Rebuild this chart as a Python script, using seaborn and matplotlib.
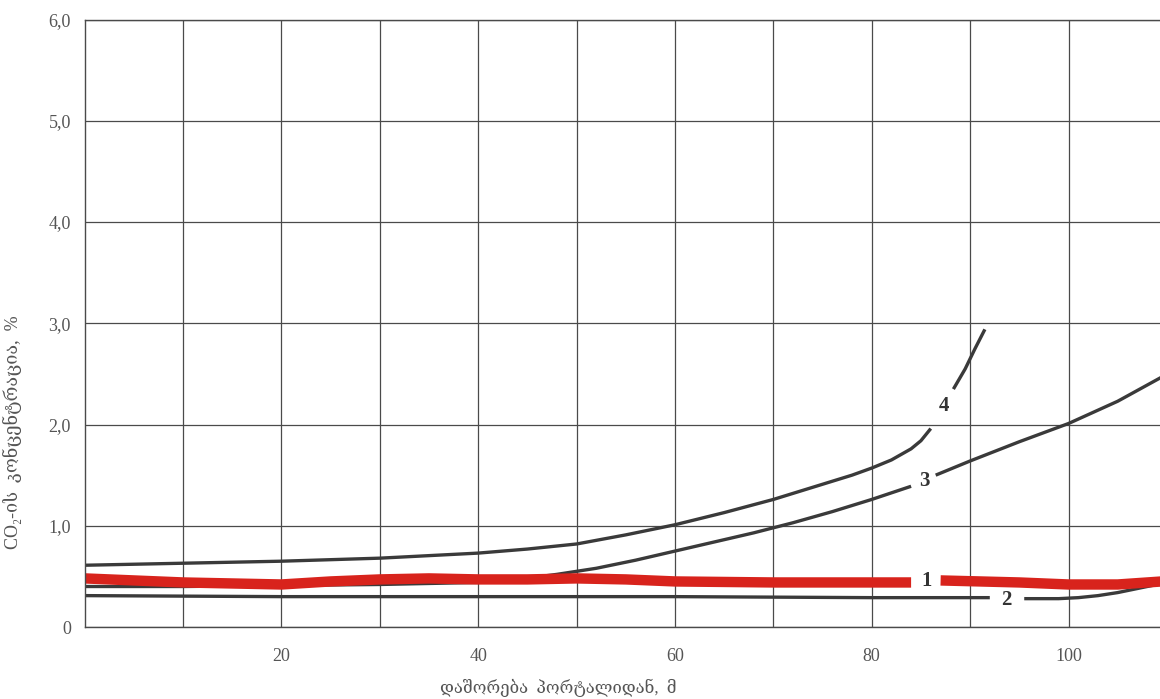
import numpy as np
import pandas as pd
import matplotlib
matplotlib.use("Agg")
import matplotlib.pyplot as plt
from matplotlib.ticker import MultipleLocator, FixedLocator, FixedFormatter
import seaborn as sns

# curve 1 (red), split where the label "1" sits
c1_x_a = [0, 5, 10, 15, 20, 25, 30, 35, 40, 45, 50, 55, 60, 70, 80, 84]
c1_y_a = [0.48, 0.46, 0.44, 0.43, 0.42, 0.45, 0.47, 0.48, 0.47, 0.47, 0.48, 0.47, 0.45, 0.44, 0.44, 0.44]
c1_x_b = [87, 95, 100, 105, 109.5]
c1_y_b = [0.46, 0.44, 0.42, 0.42, 0.45]

# curve 2
c2_x_a = [0, 20, 40, 60, 80, 92]
c2_y_a = [0.31, 0.30, 0.30, 0.30, 0.29, 0.29]
c2_x_b = [95.5, 99, 101, 103, 105, 107, 109.5]
c2_y_b = [0.28, 0.28, 0.29, 0.31, 0.34, 0.38, 0.43]

# curve 3
c3_x_a = [0, 10, 20, 30, 40, 44, 48, 52, 56, 60, 64, 68, 72, 76, 80, 84]
c3_y_a = [0.40, 0.40, 0.41, 0.42, 0.44, 0.47, 0.52, 0.58, 0.66, 0.75, 0.84, 0.93, 1.03, 1.14, 1.26, 1.39]
c3_x_b = [86.5, 90, 95, 100, 105, 109.5]
c3_y_b = [1.50, 1.64, 1.83, 2.01, 2.23, 2.47]

# curve 4
c4_x_a = [0, 10, 20, 30, 40, 45, 50, 55, 60, 65, 70, 75, 78, 80, 82, 84, 85, 86]
c4_y_a = [0.61, 0.63, 0.65, 0.68, 0.73, 0.77, 0.82, 0.91, 1.01, 1.13, 1.26, 1.41, 1.50, 1.57, 1.65, 1.76, 1.84, 1.96]
c4_x_b = [88.3, 89.5, 90.5, 91.5]
c4_y_b = [2.35, 2.55, 2.75, 2.94]

curve_labels = ["1", "2", "3", "4"]
label_x = [85.6, 93.7, 85.3, 87.3]
label_y = [0.45, 0.27, 1.44, 2.18]

y_ticks = [0, 1, 2, 3, 4, 5, 6]
y_ticklabels = ["0", "1,0", "2,0", "3,0", "4,0", "5,0", "6,0"]
x_ticks = [10, 20, 30, 40, 50, 60, 70, 80, 90, 100]
x_ticklabels = ["", "20", "", "40", "", "60", "", "80", "", "100"]

ylabel = "CO₂-ის  კონცენტრაცია,  %"
xlabel = "დაშორება  პორტალიდან,  მ"

sns.set_style("white")
plt.rcParams["font.family"] = ["Liberation Serif", "DejaVu Serif"]

fig = plt.figure(figsize=(11.6, 6.99), dpi=100)
ax = fig.add_axes([0.073, 0.103, 0.927, 0.869])

grey = "#3a3a3a"
red = "#d8231c"

segments = [
    (c2_x_a, c2_y_a, grey, 2.4),
    (c2_x_b, c2_y_b, grey, 2.4),
    (c3_x_a, c3_y_a, grey, 2.4),
    (c3_x_b, c3_y_b, grey, 2.4),
    (c4_x_a, c4_y_a, grey, 2.4),
    (c4_x_b, c4_y_b, grey, 2.4),
    (c1_x_a, c1_y_a, red, 7.5),
    (c1_x_b, c1_y_b, red, 7.5),
]
for xs, ys, col, lw in segments:
    df = pd.DataFrame({"x": xs, "y": ys})
    sns.lineplot(data=df, x="x", y="y", ax=ax, color=col, lw=lw,
                 estimator=None, sort=False, solid_capstyle="butt")

for lab, lx, ly in zip(curve_labels, label_x, label_y):
    ax.text(lx, ly, lab, fontsize=15, fontweight="bold", color="#333333",
            ha="center", va="center")

ax.set_xlim(0, 109.3)
ax.set_ylim(0, 6.0)
ax.xaxis.set_major_locator(FixedLocator(x_ticks))
ax.xaxis.set_major_formatter(FixedFormatter(x_ticklabels))
ax.yaxis.set_major_locator(FixedLocator(y_ticks))
ax.yaxis.set_major_formatter(FixedFormatter(y_ticklabels))
ax.yaxis.set_minor_locator(MultipleLocator(0.5))

ax.grid(True, which="major", color="#4a4a4a", lw=0.9)
ax.tick_params(axis="y", which="major", length=3, color="#4a4a4a",
               labelsize=13, labelcolor="#555555", pad=7)
ax.tick_params(axis="y", which="minor", direction="in", length=10,
               color="#4a4a4a", width=0.9)
ax.tick_params(axis="x", which="major", length=0, labelsize=13,
               labelcolor="#555555", pad=15)

for side in ["left", "bottom", "top"]:
    ax.spines[side].set_color("#4a4a4a")
    ax.spines[side].set_linewidth(1.0)
ax.spines["right"].set_visible(False)

ax.set_ylabel(ylabel, fontsize=13, color="#555555")
ax.yaxis.set_label_coords(-0.058, 0.32)
ax.set_xlabel(xlabel, fontsize=12, color="#555555")
ax.xaxis.set_label_coords(0.44, -0.085)

fig.savefig("out.png", dpi=100)
